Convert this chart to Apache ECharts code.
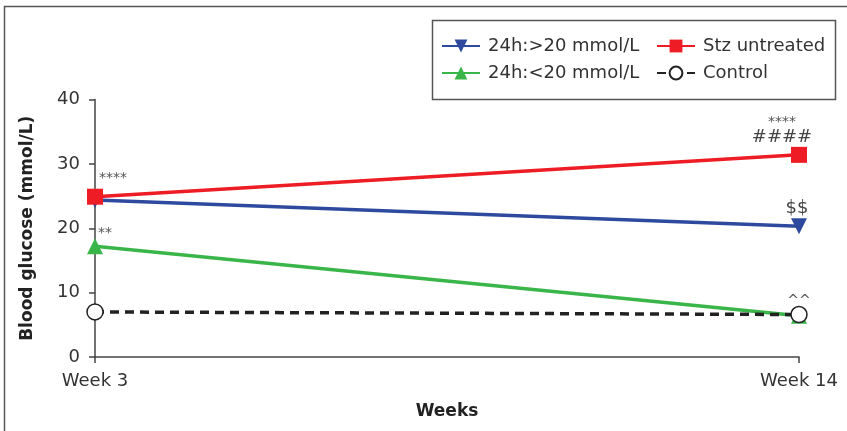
<!DOCTYPE html>
<html><head><meta charset="utf-8">
<script src="https://cdn.jsdelivr.net/npm/echarts@6/dist/echarts.min.js"></script>
<style>html,body{margin:0;padding:0;background:#fff}#c{width:847px;height:431px}</style>
</head><body><div id="c"></div>
<script>
const categories = ['Week 3', 'Week 14'];
const yTicks = [0, 10, 20, 30, 40];
const seriesNames = ['24h:>20 mmol/L', 'Stz untreated', '24h:<20 mmol/L', 'Control'];
const above20 = [24.4, 20.3];
const stz = [24.9, 31.4];
const below20 = [17.2, 6.4];
const control = [7.0, 6.6];
const annotAbove20 = ['', '$$'];
const annotStz = ['****', '****\n####'];
const annotBelow20 = ['**', ''];
const annotControl = ['', '^^'];

const FONT = 'DejaVu Sans';
const rich = {
  s: { fontSize: 14, color: '#555', fontFamily: FONT, lineHeight: 12 },
  b: { fontSize: 18, color: '#444', fontFamily: FONT, lineHeight: 18 }
};
function fmtLabel(txt) {
  return txt.split('\n').map(t => (t.indexOf('*') >= 0 || t.indexOf('^') >= 0) ? '{s|' + t + '}' : '{b|' + t + '}').join('\n');
}
function mkData(vals, annots, offsets) {
  return vals.map((v, i) => ({
    value: v,
    label: annots[i] ? {
      show: true, position: 'top', formatter: fmtLabel(annots[i]), rich: rich,
      offset: offsets[i], distance: 4
    } : { show: false }
  }));
}
const legendCommon = {
  orient: 'vertical', top: 37, padding: 0, itemGap: 9,
  itemWidth: 38, itemHeight: 16,
  textStyle: { fontFamily: FONT, fontSize: 18, color: '#333', padding: [0, 0, 0, 3] }
};

const chart = echarts.init(document.getElementById('c'), null, { renderer: 'canvas' });
chart.setOption({
  animation: false,
  textStyle: { fontFamily: FONT },
  graphic: [{
    type: 'rect', silent: true,
    shape: { x: 4.5, y: 6.5, width: 900, height: 500 },
    style: { fill: 'none', stroke: '#555', lineWidth: 1.5 }
  }, {
    type: 'rect', silent: true,
    shape: { x: 432.5, y: 20.5, width: 403, height: 79 },
    style: { fill: 'none', stroke: '#555', lineWidth: 1.5 }
  }],
  grid: { left: 95, right: 48, top: 99.5, bottom: 74, containLabel: false },
  legend: [
    Object.assign({}, legendCommon, { left: 441, data: [seriesNames[0], seriesNames[2]] }),
    Object.assign({}, legendCommon, { left: 656, data: [seriesNames[1], seriesNames[3]] })
  ],
  xAxis: {
    type: 'category', data: categories, boundaryGap: false,
    name: 'Weeks', nameLocation: 'middle', nameGap: 46,
    nameTextStyle: { fontFamily: FONT, fontWeight: 'bold', fontSize: 17, color: '#222' },
    axisLine: { lineStyle: { color: '#444', width: 1.5 } },
    axisTick: { show: true, length: 6, lineStyle: { color: '#444', width: 1.5 } },
    axisLabel: { fontFamily: FONT, fontSize: 18, color: '#333', margin: 15 },
    splitLine: { show: false }
  },
  yAxis: {
    type: 'value', min: 0, max: 40, interval: 10,
    name: 'Blood glucose (mmol/L)', nameLocation: 'middle', nameGap: 59,
    nameTextStyle: { fontFamily: FONT, fontWeight: 'bold', fontSize: 17, color: '#222' },
    axisLine: { show: true, lineStyle: { color: '#444', width: 1.5 } },
    axisTick: { show: true, length: 6, lineStyle: { color: '#444', width: 1.5 } },
    axisLabel: { fontFamily: FONT, fontSize: 18, color: '#333', margin: 15,
      formatter: v => yTicks.indexOf(v) >= 0 ? String(v) : '' },
    splitLine: { show: false }
  },
  series: [
    {
      name: seriesNames[0], type: 'line', z: 3,
      data: mkData(above20, annotAbove20, [[0, 0], [-2, 3]]),
      symbol: 'triangle', symbolRotate: 180, symbolSize: 16,
      lineStyle: { color: '#2E4A9E', width: 3.5 },
      itemStyle: { color: '#2E4A9E', borderWidth: 0 }
    },
    {
      name: seriesNames[1], type: 'line', z: 4,
      data: mkData(stz, annotStz, [[18, 0], [-17, 3]]),
      symbol: 'rect', symbolSize: 16,
      lineStyle: { color: '#EE1C25', width: 3.5 },
      itemStyle: { color: '#EE1C25', borderWidth: 0 }
    },
    {
      name: seriesNames[2], type: 'line', z: 3,
      data: mkData(below20, annotBelow20, [[10, 5], [0, 0]]),
      symbol: 'triangle', symbolSize: 16,
      lineStyle: { color: '#3AB54A', width: 3.5 },
      itemStyle: { color: '#3AB54A', borderWidth: 0 }
    },
    {
      name: seriesNames[3], type: 'line', z: 5,
      data: mkData(control, annotControl, [[0, 0], [0, 6]]),
      symbol: 'circle', symbolSize: 16,
      lineStyle: { color: '#222', width: 3.5, type: [9, 6] },
      itemStyle: { color: '#fff', borderColor: '#222', borderWidth: 1.5 }
    }
  ]
});
</script></body></html>
